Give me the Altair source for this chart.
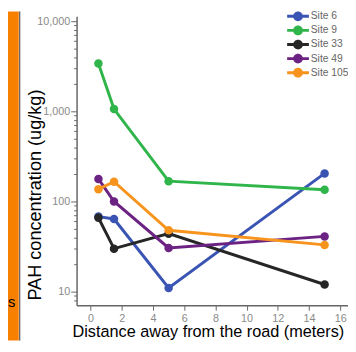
import altair as alt
import pandas as pd

distance = [0.5, 1.5, 5, 15]
sites = ["Site 6", "Site 9", "Site 33", "Site 49", "Site 105"]
site6 = [68, 64, 11, 205]
site9 = [3400, 1060, 168, 135]
site33 = [66, 30, 44, 12]
site49 = [178, 100, 30.5, 41]
site105 = [137, 166, 48, 33]
colors = ["#3a54b4", "#2fb54a", "#262626", "#6c2282", "#f7941e"]

x_ticks = [0, 2, 4, 6, 8, 10, 12, 14, 16]
y_ticks = [8, 9, 10, 20, 30, 40, 50, 60, 70, 80, 90,
           100, 200, 300, 400, 500, 600, 700, 800, 900,
           1000, 2000, 3000, 4000, 5000, 6000, 7000, 8000, 9000, 10000]

series = [site6, site9, site33, site49, site105]
rows = []
for name, vals in zip(sites, series):
    for d, v in zip(distance, vals):
        rows.append({"site": name, "distance": d, "pah": v})
df = pd.DataFrame(rows)

font = "Liberation Sans"

x_enc = alt.X(
    "distance:Q",
    scale=alt.Scale(domain=[-0.9, 16.5], nice=False, zero=False),
    axis=alt.Axis(
        values=x_ticks, grid=False, labelColor="#8a8a8a", labelFontSize=11,
        labelFont=font, tickColor="#666666", tickSize=5, domainColor="#666666",
        domainWidth=1.5, labelPadding=2,
        title="Distance away from the road (meters)", titleFont=font,
        titleFontSize=16.6, titleFontWeight="normal", titleColor="#000000",
        titleX=134, titleY=32, titleBaseline="alphabetic", titleAlign="center",
    ),
)

major_test = "datum.value == 10 || datum.value == 100 || datum.value == 1000 || datum.value == 10000"
y_enc = alt.Y(
    "pah:Q",
    scale=alt.Scale(type="log", domain=[7.05, 11330], nice=False),
    axis=alt.Axis(
        values=y_ticks, grid=False, labelColor="#8a8a8a", labelFontSize=11,
        labelFont=font, tickColor="#666666",
        tickSize={"condition": {"test": major_test, "value": 6}, "value": 3},
        domainColor="#666666", domainWidth=1.5, labelPadding=1,
        labelExpr="(" + major_test + ") ? format(datum.value, ',') : ''",
        title="PAH concentration (ug/kg)", titleFont=font, titleFontSize=18.5,
        titleFontWeight="normal", titleColor="#000000",
        titleX=-37, titleY=182, titleBaseline="alphabetic", titleAlign="center",
        titleAngle=270,
    ),
)

legend_path = ("M-1.85,-0.25H1.85V0.25H-1.85Z "
               "M0.83,0A0.83,0.83,0,1,1,-0.83,0A0.83,0.83,0,1,1,0.83,0Z")

color_scale = alt.Scale(domain=sites, range=colors)

lines = alt.Chart(df).mark_line(strokeWidth=3).encode(
    x=x_enc, y=y_enc,
    color=alt.Color("site:N", scale=color_scale, legend=None),
    detail="site:N",
)

points = alt.Chart(df).mark_circle(size=75, opacity=1).encode(
    x=x_enc, y=y_enc,
    color=alt.Color(
        "site:N", scale=color_scale, sort=sites,
        legend=alt.Legend(
            title=None, orient="none", legendX=220, legendY=-6,
            symbolType=legend_path, symbolSize=144, symbolStrokeWidth=0,
            symbolOpacity=1, labelFont=font, labelFontSize=10.5,
            labelColor="#666666", labelOffset=7, rowPadding=2.4, padding=0,
            labelLimit=200,
        ),
    ),
)

deco = pd.DataFrame({"k": [0]})
bar = alt.Chart(deco).mark_rect(color="#f78000").encode(
    x=alt.value(-70), x2=alt.value(-59), y=alt.value(-5), y2=alt.value(331)
)
edge = alt.Chart(deco).mark_rule(color="#333333", strokeWidth=1).encode(
    x=alt.value(-58), y=alt.value(-5), y2=alt.value(331)
)
frag = alt.Chart(deco).mark_text(
    text="s", font=font, fontSize=15, color="#000000", align="left",
    baseline="alphabetic"
).encode(x=alt.value(-70), y=alt.value(297))

chart = alt.layer(bar, edge, frag, lines, points).resolve_legend(
    color="independent"
).properties(
    width=277, height=295,
    autosize=alt.AutoSizeParams(type="none"),
    padding={"left": 70, "top": 5, "right": 0, "bottom": 36},
    background="#ffffff",
).configure_view(stroke=None)

chart.save("out.html", embed_options={"renderer": "svg", "actions": False})
